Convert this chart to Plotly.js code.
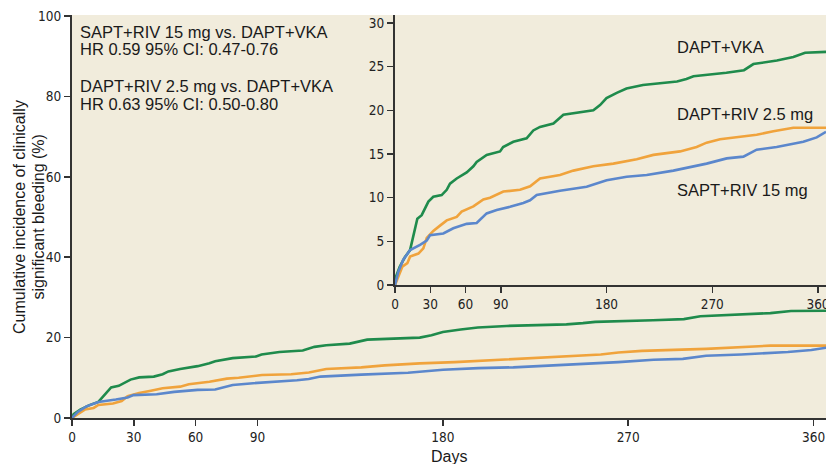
<!DOCTYPE html>
<html>
<head>
<meta charset="utf-8">
<script src="https://cdn.plot.ly/plotly-3.0.1.min.js"></script>
<style>html,body{margin:0;padding:0;background:#fff;}#chart{width:826px;height:464px;}</style>
</head>
<body>
<div id="chart"></div>
<script>
// Days and cumulative incidence (%)
var vkaDays = [0,0.8,4,8.5,12.8,15,17,19,22.7,25.5,28.4,32.6,39.7,44,46.8,52.5,61,66.7,69.5,78,89.4,92,100.7,112,117.7,123.4,134.8,143.3,154.6,168.8,174.5,180,188.7,197,211,240,248,254,282,297,305,325,339,349,366.8];
var vkaVals = [0,0.95,2.1,3.2,4.0,5.2,6.3,7.6,8.0,8.8,9.55,10.1,10.3,10.9,11.6,12.2,12.9,13.6,14.1,14.9,15.3,15.8,16.4,16.8,17.7,18.1,18.5,19.5,19.7,20.0,20.6,21.4,22.0,22.5,22.9,23.3,23.6,23.9,24.3,24.6,25.3,25.7,26.1,26.6,26.7];

var riv25Days = [0,2.8,6.2,10.5,12.8,19.9,24.1,27,32.6,38.3,44,52.5,56.7,66.7,75.2,80.9,92.2,106.4,115,123.4,140.4,151.8,168.8,185.8,205.7,219.9,242.6,256.7,265.2,276.6,307.8,322,339,366.8];
var riv25Vals = [0,0.95,2.1,2.5,3.25,3.6,4.2,5.4,6.2,6.8,7.4,7.8,8.4,9.0,9.8,10.0,10.7,10.9,11.3,12.2,12.6,13.1,13.6,13.9,14.4,14.9,15.3,15.8,16.3,16.7,17.2,17.6,18.0,18.0];

var riv15Days = [0,2.8,7,12.8,21.3,27,29.8,41.1,49.6,61,69.5,75.2,78,86.5,97.9,109.2,114.9,120.6,140.4,163.1,180.1,197.2,214.2,236.9,248.2,265.2,282.3,296.5,307.8,324.8,347.5,358.9,366.8];
var riv15Vals = [0,1.5,2.9,4.0,4.6,5.1,5.7,5.9,6.5,7.0,7.1,7.8,8.2,8.6,8.95,9.4,9.7,10.3,10.8,11.25,12.0,12.4,12.6,13.1,13.4,13.9,14.5,14.7,15.5,15.8,16.4,16.9,17.55];

var xTicks = [0,30,60,90,180,270,360];
var yTicksMain = [0,20,40,60,80,100];
var yTicksInset = [0,5,10,15,20,25,30];

var seriesNames = ['DAPT+VKA','DAPT+RIV 2.5 mg','SAPT+RIV 15 mg'];
var colors = ['#1f8b4c','#f0a33c','#5b87cc'];
var allDays = [vkaDays, riv25Days, riv15Days];
var allVals = [vkaVals, riv25Vals, riv15Vals];

var traces = [];
['x','x2'].forEach(function(xa, k){
  for (var i = 0; i < 3; i++) {
    traces.push({
      x: allDays[i], y: allVals[i], type: 'scatter', mode: 'lines',
      name: seriesNames[i], showlegend: false, hoverinfo: 'skip',
      xaxis: xa, yaxis: k === 0 ? 'y' : 'y2',
      line: {color: colors[i], width: 2.6, shape: 'linear'}
    });
  }
});

var tickFont = {family: '"DejaVu Sans Condensed", "Liberation Sans Narrow", "Liberation Sans", sans-serif', size: 13.5, color: '#222'};
var txtFont = {family: '"Liberation Sans", Arial, sans-serif', size: 16.5, color: '#1a1a1a'};

function axisBase() {
  return {showline: true, linecolor: '#333', linewidth: 2, ticks: 'outside', ticklen: 6,
    tickwidth: 1.5, tickcolor: '#333', showgrid: false, zeroline: false, tickfont: tickFont, fixedrange: true,
    ticklabeloverflow: 'allow'};
}

var xaxis = Object.assign(axisBase(), {range: [0, 366], tickvals: xTicks, ticktext: xTicks.map(String)});
var yaxis = Object.assign(axisBase(), {range: [0, 100.25], tickvals: yTicksMain, ticktext: yTicksMain.map(String)});
var xaxis2 = Object.assign(axisBase(), {domain: [0.4284, 1], anchor: 'y2', range: [0, 366.8], tickvals: xTicks, ticktext: xTicks.map(String)});
var yaxis2 = Object.assign(axisBase(), {domain: [0.330, 1], anchor: 'x2', range: [0, 30.92], tickvals: yTicksInset, ticktext: yTicksInset.map(String)});

function px(xp){ return (xp - 72) / 754; }
function py(yp){ return (418 - yp) / 403; }

var annotations = [
  {text: 'SAPT+RIV 15 mg vs. DAPT+VKA', x: px(78), y: py(32)},
  {text: 'HR 0.59 95% CI: 0.47-0.76', x: px(78), y: py(49)},
  {text: 'DAPT+RIV 2.5 mg vs. DAPT+VKA', x: px(78), y: py(86.5)},
  {text: 'HR 0.63 95% CI: 0.50-0.80', x: px(78), y: py(103.5)},
  {text: 'DAPT+VKA', x: px(675), y: py(46.5)},
  {text: 'DAPT+RIV 2.5 mg', x: px(675), y: py(113.5)},
  {text: 'SAPT+RIV 15 mg', x: px(675), y: py(190)}
].map(function(a){
  return {text: a.text, x: a.x, y: a.y, xref: 'paper', yref: 'paper', xanchor: 'left', yanchor: 'middle',
    showarrow: false, font: txtFont};
});
annotations.push({text: 'Days', x: 0.5, y: py(456), xref: 'paper', yref: 'paper', xanchor: 'center', yanchor: 'middle', showarrow: false,
  font: {family: '"Liberation Sans", Arial, sans-serif', size: 16, color: '#1a1a1a'}});
annotations.push({text: 'Cumulative incidence of clinically', x: px(19), y: py(217), xref: 'paper', yref: 'paper', xanchor: 'center', yanchor: 'middle', textangle: -90, showarrow: false,
  font: {family: '"Liberation Sans", Arial, sans-serif', size: 16, color: '#1a1a1a'}});
annotations.push({text: 'significant bleeding (%)', x: px(37.5), y: py(217), xref: 'paper', yref: 'paper', xanchor: 'center', yanchor: 'middle', textangle: -90, showarrow: false,
  font: {family: '"Liberation Sans", Arial, sans-serif', size: 16, color: '#1a1a1a'}});

var layout = {
  width: 826, height: 464,
  margin: {l: 72, r: 0, t: 15, b: 46, pad: 0},
  paper_bgcolor: '#ffffff', plot_bgcolor: '#f1ecdc',
  xaxis: xaxis, yaxis: yaxis, xaxis2: xaxis2, yaxis2: yaxis2,
  showlegend: false,
  annotations: annotations,
  shapes: [{type: 'rect', xref: 'x2 domain', yref: 'y2 domain', x0: 0, x1: 1, y0: 0, y1: 1,
    fillcolor: '#f8f6ef', line: {width: 0}, layer: 'below'}]
};

Plotly.newPlot('chart', traces, layout, {displayModeBar: false, staticPlot: true});
</script>
</body>
</html>
